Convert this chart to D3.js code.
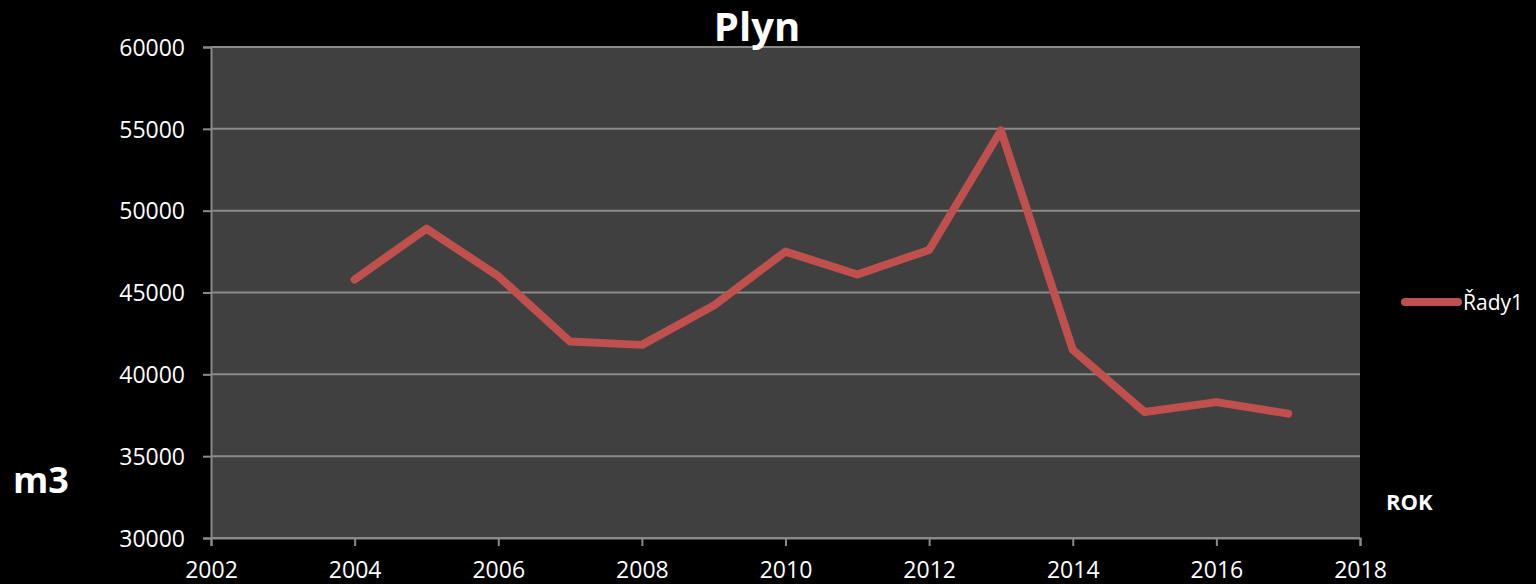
<html>
<head>
<meta charset="utf-8">
<title>Plyn</title>
<style>
body{ margin:0; background:black; }
.grid line{ stroke:#8a8a8a; stroke-width:2px; }
.axis path, .axis line{ stroke:#8a8a8a; stroke-width:2px; }
.axis text{ fill:white; font-family:"Open Sans"; font-size:23px; }
.line{ fill:none; stroke:#c0504d; stroke-width:8px; stroke-linejoin:round; stroke-linecap:round; }
</style>
</head>
<body>
<script src="https://cdn.jsdelivr.net/npm/d3@7"></script>
<script>

var width = 1536;
var height = 584;

// data
var years = [2004,2005,2006,2007,2008,2009,2010,2011,2012,2013,2014,2015,2016,2017];
var values = [45800,48900,46000,42000,41800,44200,47500,46100,47600,54900,41500,37700,38300,37600];
var xTicks = [2002,2004,2006,2008,2010,2012,2014,2016,2018];
var yTicks = [30000,35000,40000,45000,50000,55000,60000];
var seriesName = "Řady1";

var padding = {left:211,right:176,top:47,bottom:46};

var svg = d3.select("body").append("svg")
			.attr("width",width)
			.attr("height",height)
			.style("display","block");

svg.append("rect").attr("width",width).attr("height",height).attr("fill","black");

var x = d3.scaleLinear().domain([2002,2018]).range([padding.left, width - padding.right]);
var y = d3.scaleLinear().domain([30000,60000]).range([height - padding.bottom, padding.top]);

// plot area
svg.append("rect")
	.attr("x",x(2002))
	.attr("y",y(60000))
	.attr("width",x(2018)-x(2002))
	.attr("height",y(30000)-y(60000))
	.attr("fill","#404040");

// gridlines
svg.append("g").attr("class","grid")
	.selectAll("line").data(yTicks).enter().append("line")
	.attr("x1",x(2002)).attr("x2",x(2018))
	.attr("y1",function(d){ return y(d); })
	.attr("y2",function(d){ return y(d); });

// axes
svg.append("g").attr("class","axis")
	.attr("transform","translate(" + x(2002) + ",0)")
	.call(d3.axisLeft(y).tickValues(yTicks).tickSize(8).tickPadding(18).tickFormat(d3.format("d")));

svg.append("g").attr("class","axis")
	.attr("transform","translate(0," + y(30000) + ")")
	.call(d3.axisBottom(x).tickValues(xTicks).tickSize(8).tickPadding(16).tickFormat(d3.format("d")));

svg.selectAll(".axis .tick text").attr("dy",null);
svg.selectAll(".axis").filter(function(d,i){ return i==0; }).selectAll(".tick text").attr("dy","0.36em");
svg.selectAll(".axis").filter(function(d,i){ return i==1; }).selectAll(".tick text").attr("dy","0.71em");

// series line
var line = d3.line()
	.x(function(d,i){ return x(years[i]); })
	.y(function(d){ return y(d); });

svg.append("path")
	.datum(values)
	.attr("class","line")
	.attr("d",line);

// title and axis titles
svg.append("text")
	.attr("x",757).attr("y",41)
	.attr("text-anchor","middle")
	.attr("fill","white")
	.attr("font-family","Open Sans").attr("font-weight","bold").attr("font-size","40px")
	.text("Plyn");

svg.append("text")
	.attr("x",13).attr("y",493)
	.attr("fill","white")
	.attr("font-family","Open Sans").attr("font-weight","bold").attr("font-size","36px")
	.text("m3");

svg.append("text")
	.attr("x",1386).attr("y",510)
	.attr("fill","white")
	.attr("font-family","Open Sans").attr("font-weight","bold").attr("font-size","22px")
	.text("ROK");

// legend
svg.append("line")
	.attr("x1",1405).attr("x2",1458)
	.attr("y1",302).attr("y2",302)
	.attr("stroke","#c0504d").attr("stroke-width",8).attr("stroke-linecap","round");

svg.append("text")
	.attr("x",1463).attr("y",310)
	.attr("fill","white")
	.attr("font-family","Open Sans").attr("font-size","21px")
	.text(seriesName);

</script>
</body>
</html>
